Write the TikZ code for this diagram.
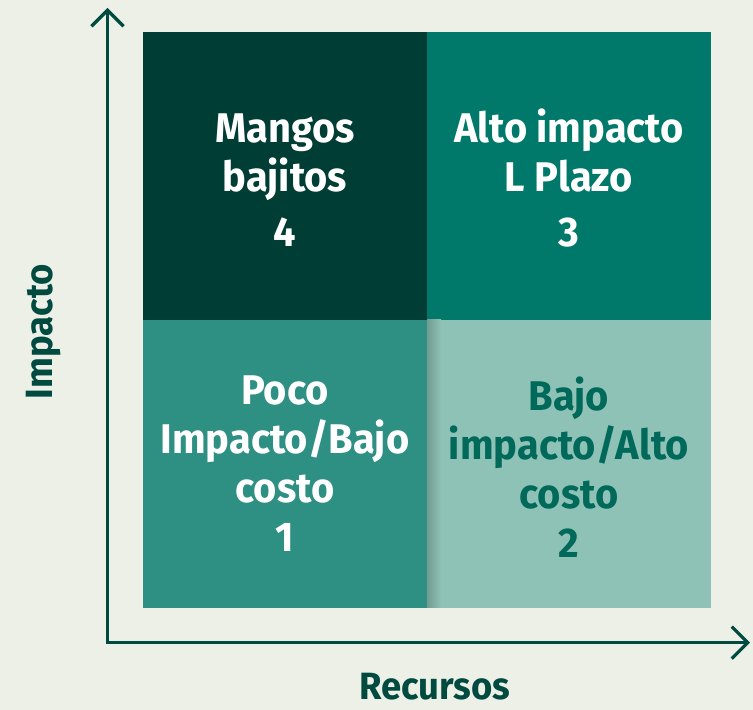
\documentclass[tikz,border=0pt]{standalone}
\usepackage{fontspec}
\setmainfont{Fira Sans}[FakeStretch=0.96]
\usepackage{xcolor}
\usetikzlibrary{arrows.meta,positioning}

\definecolor{paperbg}{HTML}{EDF0E6}
\definecolor{axisgreen}{HTML}{004A40}
\definecolor{darkgreen}{HTML}{003D35}
\definecolor{midgreen}{HTML}{00786A}
\definecolor{tealgreen}{HTML}{2E8F83}
\definecolor{palegreen}{HTML}{8FC2B6}
\definecolor{paletext}{HTML}{00695A}

\newcommand{\lift}[1]{\rule{0pt}{#1}}

\begin{document}
\begin{tikzpicture}[
    x=1pt, y=1pt,
    node distance=0pt,
    quad/.style={minimum width=284pt, minimum height=288pt, inner sep=0pt, outer sep=0pt, align=center, text=white, font=\fontsize{41.5}{49}\selectfont\bfseries},
    axislabel/.style={text=axisgreen, font=\fontsize{38}{44}\selectfont\bfseries},
    axis/.style={draw=axisgreen, line width=3.2pt, {Straight Barb[length=16pt,width=32pt]}-{Straight Barb[length=16pt,width=32pt]}}
]
    \fill[paperbg] (0,0) rectangle (753,710);
    \useasboundingbox (0,0) rectangle (753,710);

    % quadrants
    \node[quad, fill=darkgreen, anchor=north west] (mangos) at (143,678) {\lift{38pt}Mangos\\bajitos\\[6pt]4};
    \node[quad, fill=midgreen, right=of mangos] (alto) {\lift{38pt}Alto impacto\\L Plazo\\[6pt]3};
    \node[quad, fill=tealgreen, below=of mangos] (poco) {Poco\\Impacto/Bajo\\costo\\1};
    \node[quad, fill=palegreen, text=paletext, below=of alto] (bajo) {\lift{40pt}Bajo\\impacto/Alto\\costo\\2};
    \shade[left color=palegreen!80!black, right color=palegreen] (bajo.north west) rectangle ([xshift=14pt]bajo.south west);

    % axes
    \coordinate (ytop) at (107.5,702);
    \coordinate (xend) at (750,67.3);
    \draw[axis] (ytop) |- (xend);

    \node[axislabel, rotate=90, anchor=base] (impacto) at (52,378.5) {Impacto};
    \node[axislabel, anchor=base] (recursos) at (435,10) {Recursos};
\end{tikzpicture}
\end{document}
